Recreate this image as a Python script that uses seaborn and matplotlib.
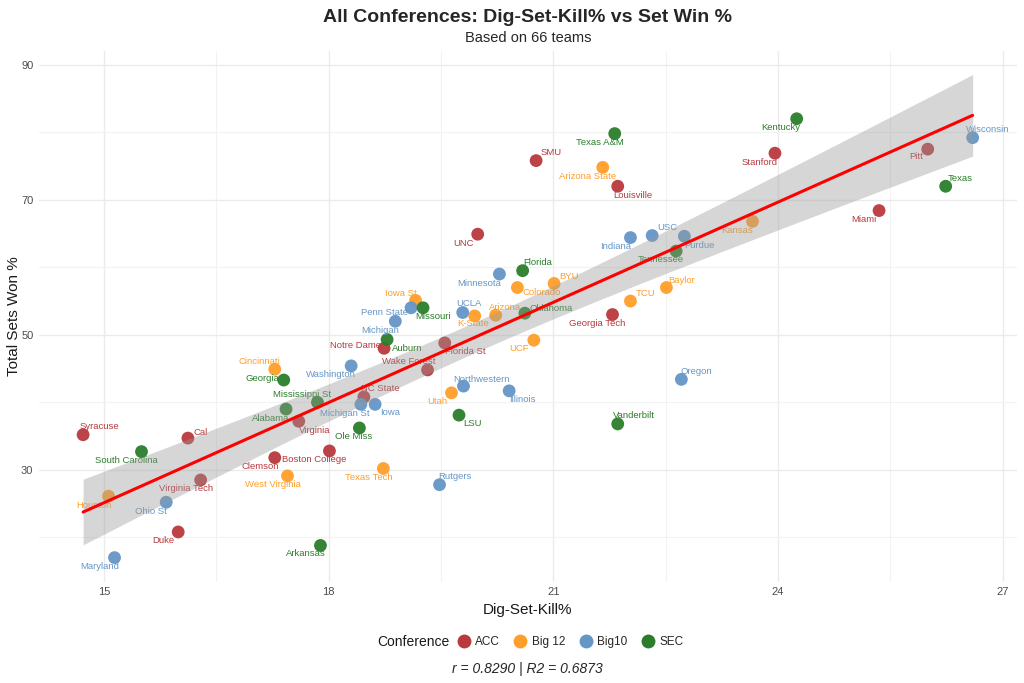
import numpy as np
import pandas as pd
import matplotlib
matplotlib.use("Agg")
import matplotlib.pyplot as plt
import seaborn as sns
from matplotlib.lines import Line2D

# ---------------- data ----------------
teams = [
    "Syracuse", "Cal", "Virginia Tech", "Duke", "Virginia", "Clemson", "Boston College",
    "Notre Dame", "Florida St", "Wake Forest", "NC State", "SMU", "Louisville", "UNC",
    "Georgia Tech", "Stanford", "Pitt", "Miami",
    "Houston", "Cincinnati", "West Virginia", "Iowa St", "Utah", "Texas Tech", "K-State",
    "Arizona", "Colorado", "Arizona State", "BYU", "Baylor", "TCU", "UCF", "Kansas",
    "Maryland", "Ohio St", "Washington", "Penn State", "Michigan", "Michigan St", "Iowa",
    "Northwestern", "Illinois", "Rutgers", "UCLA", "Minnesota", "Indiana", "USC", "Purdue",
    "Wisconsin", "Oregon",
    "South Carolina", "Georgia", "Mississippi St", "Alabama", "Arkansas", "Ole Miss",
    "Auburn", "Missouri", "LSU", "Texas A&M", "Florida", "Oklahoma", "Tennessee",
    "Kentucky", "Texas", "Vanderbilt",
]
conference = (["ACC"] * 18 + ["Big 12"] * 15 + ["Big10"] * 17 + ["SEC"] * 16)
dig_set_kill = [
    14.72, 16.12, 16.29, 15.99, 17.60, 17.28, 18.01, 18.74, 19.55, 19.32, 18.47, 20.77,
    21.86, 19.99, 21.79, 23.96, 26.00, 25.35,
    15.06, 17.28, 17.45, 19.16, 19.64, 18.73, 19.95, 20.23, 20.52, 21.66, 21.01, 22.51,
    22.03, 20.74, 23.66,
    15.14, 15.83, 18.30, 19.10, 18.89, 18.43, 18.62, 19.80, 20.41, 19.48, 19.79, 20.28,
    22.03, 22.32, 22.75, 26.60, 22.71,
    15.50, 17.40, 17.85, 17.43, 17.89, 18.41, 18.78, 19.26, 19.74, 21.82, 20.59, 20.62,
    22.64, 24.25, 26.24, 21.86,
]
sets_won = [
    35.2, 34.7, 28.5, 20.8, 37.2, 31.8, 32.8, 48.0, 48.8, 44.8, 40.8, 75.8, 72.0, 64.9,
    53.0, 76.9, 77.5, 68.4,
    26.1, 44.9, 29.1, 55.1, 41.4, 30.2, 52.8, 52.9, 57.0, 74.8, 57.6, 57.0, 55.0, 49.2,
    66.8,
    17.0, 25.2, 45.4, 54.0, 52.0, 39.7, 39.7, 42.4, 41.7, 27.8, 53.3, 59.0, 64.4, 64.7,
    64.6, 79.2, 43.4,
    32.7, 43.3, 40.0, 39.0, 18.8, 36.2, 49.3, 54.0, 38.1, 79.8, 59.5, 53.2, 62.4, 82.0,
    72.0, 36.8,
]
conf_order = ["ACC", "Big 12", "Big10", "SEC"]
x_ticks = [15, 18, 21, 24, 27]
y_ticks = [30, 50, 70, 90]
footer = "r = 0.8290 | R2 = 0.6873"

df = pd.DataFrame({"Team": teams, "Conference": conference,
                   "DSK": dig_set_kill, "Sets": sets_won})

# ---------------- style / layout ----------------
palette = {"ACC": "#B9393D", "Big 12": "#FF9E2A", "Big10": "#6496C6", "SEC": "#2B7D2B"}

# label offsets in pixels (dx right, dy down) -- layout only
label_offsets = {
    "Syracuse": (16, -8), "Cal": (13, -6), "Virginia Tech": (-15, 9), "Duke": (-15, 9),
    "Virginia": (16, 9), "Clemson": (-15, 9), "Boston College": (-15, 9),
    "Notre Dame": (-29, -3), "Florida St": (21, 9), "Wake Forest": (-19, -8),
    "NC State": (16, -8), "SMU": (15, -8), "Louisville": (15, 9), "UNC": (-14, 9),
    "Georgia Tech": (-15, 9), "Stanford": (-15, 9), "Pitt": (-12, 7), "Miami": (-15, 9),
    "Houston": (-15, 9), "Cincinnati": (-15, -8), "West Virginia": (-15, 9),
    "Iowa St": (-15, -7), "Utah": (-14, 9), "Texas Tech": (-15, 9), "K-State": (-2, 8),
    "Arizona": (9, -8), "Colorado": (24, 5), "Arizona State": (-15, 9), "BYU": (15, -7),
    "Baylor": (15, -7), "TCU": (15, -8), "UCF": (-15, 8), "Kansas": (-15, 9),
    "Maryland": (-15, 9), "Ohio St": (-15, 9), "Washington": (-20, 9),
    "Penn State": (-27, 5), "Michigan": (-15, 9), "Michigan St": (-16, 9), "Iowa": (15, 8),
    "Northwestern": (18, -7), "Illinois": (13, 9), "Rutgers": (15, -8), "UCLA": (6, -9),
    "Minnesota": (-20, 9), "Indiana": (-15, 9), "USC": (15, -8), "Purdue": (15, 9),
    "Wisconsin": (15, -8), "Oregon": (15, -8),
    "South Carolina": (-15, 9), "Georgia": (-21, -2), "Mississippi St": (-15, -8),
    "Alabama": (-15, 9), "Arkansas": (-15, 8), "Ole Miss": (-6, 9), "Auburn": (20, 9),
    "Missouri": (10, 9), "LSU": (14, 8), "Texas A&M": (-15, 9), "Florida": (15, -8),
    "Oklahoma": (26, -5), "Tennessee": (-15, 8), "Kentucky": (-16, 9), "Texas": (15, -8),
    "Vanderbilt": (16, -8),
}

sns.set_theme(style="whitegrid")
plt.rcParams["font.family"] = ["Liberation Sans", "DejaVu Sans"]

fig = plt.figure(figsize=(10.24, 6.83), dpi=100)
ax = fig.add_axes([0.038, 0.148, 0.955, 0.777])

sns.scatterplot(data=df, x="DSK", y="Sets", hue="Conference", hue_order=conf_order,
                palette=palette, s=85, alpha=0.95, edgecolor="none", legend=False,
                ax=ax, zorder=2)

for t, c, xv, yv in zip(teams, conference, dig_set_kill, sets_won):
    dx, dy = label_offsets.get(t, (0, 10))
    ax.annotate(t, (xv, yv), xytext=(dx, -dy), textcoords="offset pixels",
                ha="center", va="center", fontsize=6.8, color=palette[c], zorder=3)

# regression line + analytic 95% CI band (like ggplot geom_smooth(method="lm"))
xv = np.asarray(dig_set_kill)
yv = np.asarray(sets_won)
n = len(xv)
b1, b0 = np.polyfit(xv, yv, 1)
xs = np.linspace(xv.min(), xv.max(), 200)
resid = yv - (b0 + b1 * xv)
s_err = np.sqrt(np.sum(resid ** 2) / (n - 2))
se = s_err * np.sqrt(1 / n + (xs - xv.mean()) ** 2 / np.sum((xv - xv.mean()) ** 2))
tval = 1.9977
yfit = b0 + b1 * xs
ax.fill_between(xs, yfit - tval * se, yfit + tval * se, color="#999999", alpha=0.4,
                linewidth=0, zorder=4)
sns.regplot(data=df, x="DSK", y="Sets", scatter=False, ci=None, ax=ax,
            line_kws={"color": "#FF0000", "lw": 2.2, "zorder": 5})

# axes
ax.set_xlim(14.13, 27.19)
ax.set_ylim(13.4, 92.0)
ax.set_xticks(x_ticks)
ax.set_yticks(y_ticks)
ax.set_xticks([16.5, 19.5, 22.5, 25.5], minor=True)
ax.set_yticks([20, 40, 60, 80], minor=True)
ax.grid(which="major", color="#EBEBEB", lw=1.0)
ax.grid(which="minor", color="#F2F2F2", lw=0.8)
for sp in ax.spines.values():
    sp.set_visible(False)
ax.tick_params(axis="both", which="both", length=0, labelsize=8, labelcolor="#4D4D4D",
               pad=4)
ax.set_xlabel("Dig-Set-Kill%", fontsize=11, color="#1A1A1A", labelpad=4)
ax.set_ylabel("Total Sets Won %", fontsize=11, color="#1A1A1A", labelpad=0)
ax.set_facecolor("white")

# titles
cx = 0.038 + 0.955 / 2
fig.text(cx, 0.975, "All Conferences: Dig-Set-Kill% vs Set Win %", ha="center",
         va="center", fontsize=14, fontweight="bold")
fig.text(cx, 0.945, "Based on 66 teams", ha="center", va="center", fontsize=10.5)

# legend
fig.text(0.368, 0.060, "Conference", ha="left", va="center", fontsize=10,
         color="#1A1A1A")
handles = [Line2D([], [], marker="o", ls="none", markersize=10, markerfacecolor=palette[k],
                  markeredgecolor="none") for k in conf_order]
fig.legend(handles, conf_order, loc="center left", bbox_to_anchor=(0.440, 0.060),
           ncol=4, frameon=False, fontsize=8.5, handletextpad=0.4, columnspacing=1.1,
           handlelength=1.2, borderpad=0)

fig.text(cx, 0.020, footer, ha="center", va="center", fontsize=10, style="italic")

fig.savefig("out.png", dpi=100)
